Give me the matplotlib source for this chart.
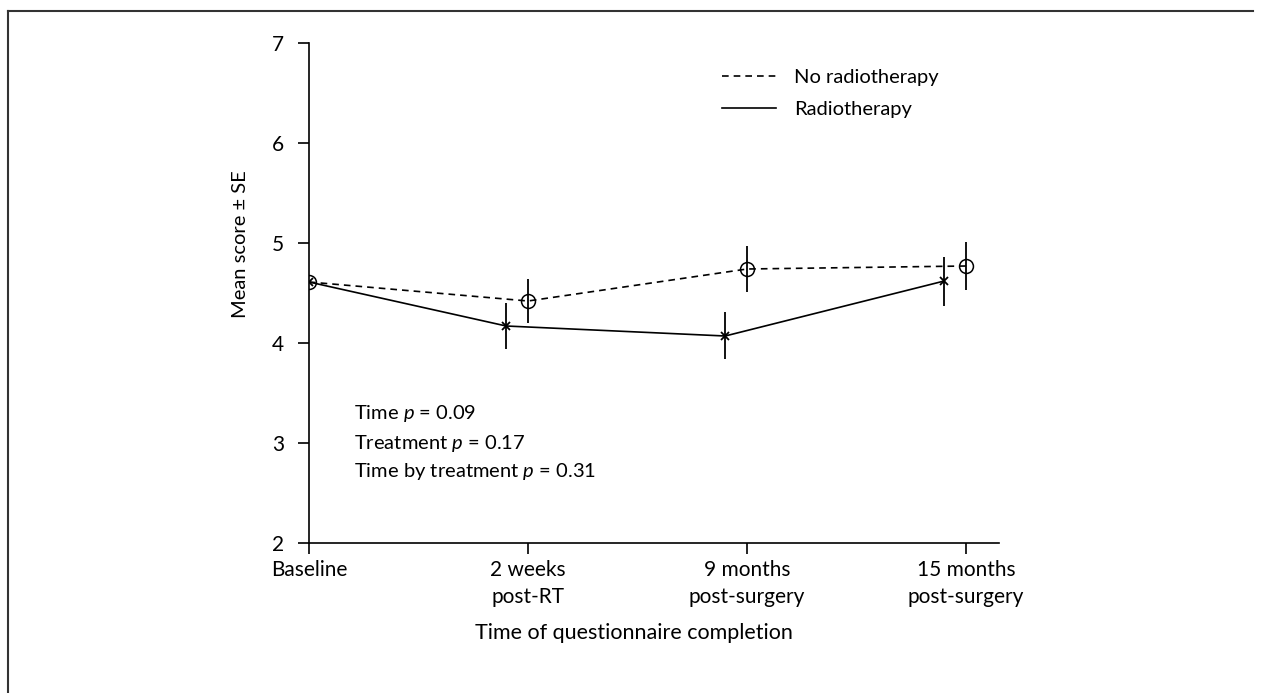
import matplotlib
matplotlib.use("Agg")
import matplotlib.pyplot as plt
from matplotlib.lines import Line2D
import numpy as np

plt.rcParams["font.family"] = ["Lato", "DejaVu Sans"]
plt.rcParams["mathtext.fontset"] = "custom"
plt.rcParams["mathtext.it"] = "Lato:italic"
plt.rcParams["mathtext.rm"] = "Lato"

time_labels = ["Baseline", "2 weeks\npost-RT", "9 months\npost-surgery", "15 months\npost-surgery"]
no_rt_mean = [4.61, 4.42, 4.74, 4.77]
no_rt_se = [0.0, 0.22, 0.23, 0.24]
rt_mean = [4.61, 4.17, 4.07, 4.62]
rt_se = [0.0, 0.23, 0.235, 0.245]
stats_lines = ["Time $p$ = 0.09", "Treatment $p$ = 0.17", "Time by treatment $p$ = 0.31"]

fig = plt.figure(figsize=(12.61, 6.93), dpi=100)
ax = fig.add_axes([309 / 1261, 1 - 543 / 693, 690 / 1261, 500 / 693])

x = np.arange(len(time_labels))
# radiotherapy points are nudged left so the error bars don't overlap
x_rt = np.where(x > 0, x - 0.1, x)

ax.plot(x, no_rt_mean, color="black", lw=1.2, dashes=(4, 3), label="No radiotherapy")
ax.errorbar(x, no_rt_mean, yerr=no_rt_se, fmt="o", mfc="none", mec="black", ms=10,
            mew=1.1, ecolor="black", elinewidth=1.3, capsize=0)
ax.plot(x_rt, rt_mean, color="black", lw=1.2, label="Radiotherapy")
ax.errorbar(x_rt, rt_mean, yerr=rt_se, fmt="x", color="black", ms=6, mew=1.3,
            ecolor="black", elinewidth=1.3, capsize=0)

ax.set_xlim(0, 3.15)
ax.set_ylim(2, 7)
ax.set_xticks(x)
ax.set_xticklabels(time_labels, fontsize=15, linespacing=1.45)
ax.set_yticks([2, 3, 4, 5, 6, 7])
ax.tick_params(axis="both", direction="out", length=8, width=1.2, labelsize=15)
ax.tick_params(axis="x", pad=4)
ax.tick_params(axis="y", pad=10)
ax.spines["top"].set_visible(False)
ax.spines["right"].set_visible(False)
ax.spines["left"].set_linewidth(1.2)
ax.spines["bottom"].set_linewidth(1.2)
ax.spines["left"].set_zorder(0)

ax.legend(loc="upper left", bbox_to_anchor=(0.573, 0.985), frameon=False, fontsize=14.5,
          handlelength=2.65, handletextpad=0.9, labelspacing=0.75)

for i, s in enumerate(stats_lines):
    ax.text(0.065, 0.258 - i * 0.058, s, transform=ax.transAxes, fontsize=14.5, va="center")

fig.text(240 / 1261, 1 - 244 / 693, "Mean score \u00b1 SE", rotation=90, fontsize=14.5,
         ha="center", va="center")
fig.text(634 / 1261, 1 - 633 / 693, "Time of questionnaire completion", fontsize=15.5,
         ha="center", va="center")

# frame around the figure panel
fig.add_artist(Line2D([8 / 1261, 8 / 1261], [0, 1 - 11 / 693], transform=fig.transFigure,
                      color="#333333", lw=1.5))
fig.add_artist(Line2D([8 / 1261, 1253 / 1261], [1 - 11 / 693, 1 - 11 / 693],
                      transform=fig.transFigure, color="#333333", lw=1.5))

fig.savefig("out.png", dpi=100)
